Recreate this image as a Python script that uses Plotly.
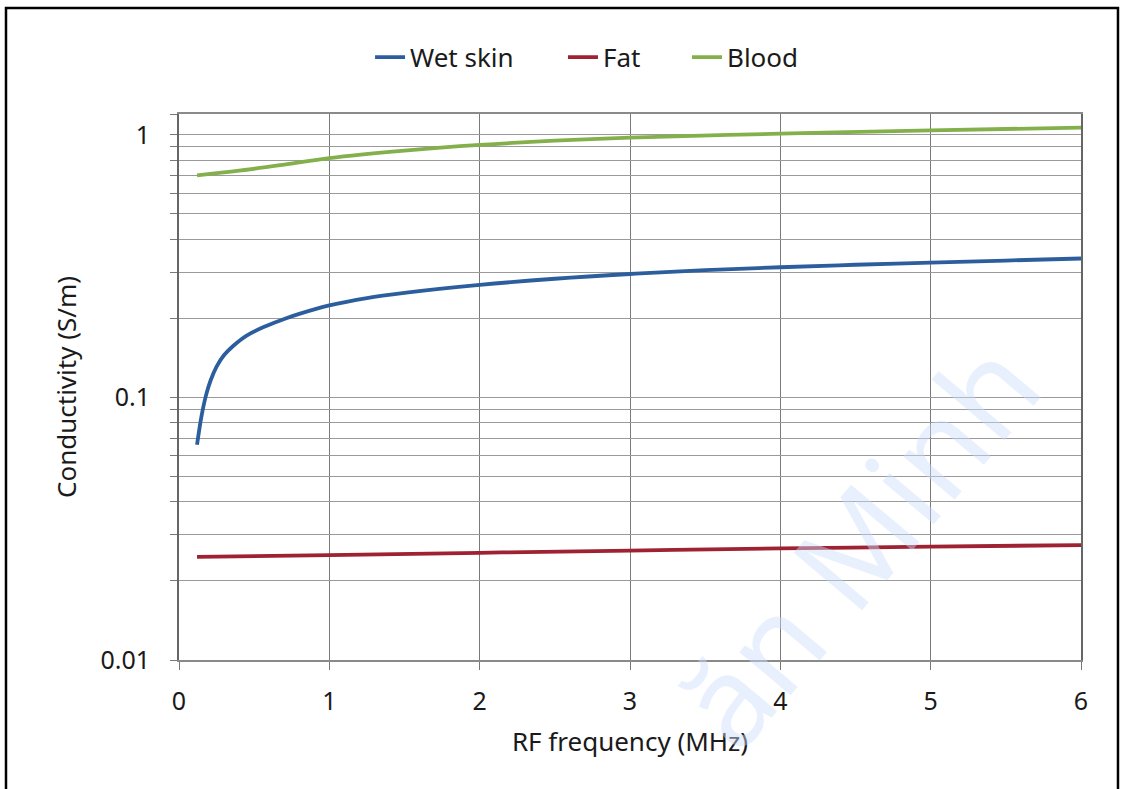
import plotly.graph_objects as go

# Data
skin_x = [0.12, 0.15, 0.18, 0.21, 0.25, 0.3, 0.36, 0.45, 0.58, 0.7, 0.8, 1.0, 1.25, 1.5, 2.0, 2.5, 3.0, 3.5, 4.0, 4.5, 5.0, 5.5, 6.0]
skin_y = [0.066, 0.085, 0.102, 0.116, 0.131, 0.145, 0.157, 0.172, 0.187, 0.199, 0.208, 0.224, 0.239, 0.25, 0.268, 0.283, 0.295, 0.305, 0.313, 0.32, 0.326, 0.332, 0.338]
fat_x = [0.12, 1.0, 2.0, 3.0, 4.0, 5.0, 6.0]
fat_y = [0.0247, 0.0251, 0.0256, 0.0261, 0.0266, 0.0270, 0.0274]
blood_x = [0.12, 0.4, 0.7, 1.0, 1.5, 2.0, 2.5, 3.0, 4.0, 5.0, 6.0]
blood_y = [0.70, 0.73, 0.77, 0.815, 0.87, 0.915, 0.95, 0.975, 1.01, 1.04, 1.065]

x_ticks = [0, 1, 2, 3, 4, 5, 6]
y_tickvals = [0.01, 0.02, 0.03, 0.04, 0.05, 0.06, 0.07, 0.08, 0.09,
              0.1, 0.2, 0.3, 0.4, 0.5, 0.6, 0.7, 0.8, 0.9, 1.0, 1.2]
y_ticktext = ["0.01", "", "", "", "", "", "", "", "",
              "0.1", "", "", "", "", "", "", "", "", "1", ""]

FONT = "Noto Sans"

fig = go.Figure()
fig.add_trace(go.Scatter(x=skin_x, y=skin_y, mode="lines", name="Wet skin", legend="legend",
                         line=dict(color="#2c5e9e", width=3.8, shape="spline")))
fig.add_trace(go.Scatter(x=fat_x, y=fat_y, mode="lines", name="Fat", legend="legend2",
                         line=dict(color="#9e2232", width=3.8, shape="spline")))
fig.add_trace(go.Scatter(x=blood_x, y=blood_y, mode="lines", name="Blood", legend="legend3",
                         line=dict(color="#84b04c", width=3.8, shape="spline")))

leg_common = dict(orientation="h", xanchor="left", y=1.104, yanchor="middle",
                  font=dict(size=26), bgcolor="rgba(0,0,0,0)")

fig.update_layout(
    width=1126, height=789,
    margin=dict(l=179, r=45, t=114, b=129),
    paper_bgcolor="white", plot_bgcolor="white",
    font=dict(family=FONT, size=25, color="#1a1a1a"),
    showlegend=True,
    legend=dict(x=0.2118, **leg_common),
    legend2=dict(x=0.4257, **leg_common),
    legend3=dict(x=0.5632, **leg_common),
    xaxis=dict(range=[0, 6], tickvals=x_ticks, ticks="outside", ticklen=8,
               tickcolor="#777", showgrid=True, gridcolor="#7a7a7a", gridwidth=1.3,
               showline=True, linecolor="#8a8a8a", linewidth=1.5, mirror=True,
               zeroline=False, tickfont=dict(size=25), ticklabelstandoff=10,
               title=dict(text="RF frequency (MHz)", font=dict(size=26), standoff=17)),
    yaxis=dict(type="log", range=[-2, 0.0792], tickvals=y_tickvals, ticktext=y_ticktext,
               ticks="outside", ticklen=7, tickcolor="#777",
               showgrid=True, gridcolor="#9a9a9a", gridwidth=1.3,
               showline=True, linecolor="#666", linewidth=1.8, mirror=True,
               zeroline=False, tickfont=dict(size=25), ticklabelstandoff=15,
               title=dict(text="Conductivity (S/m)", font=dict(size=26), standoff=16)),
)

# Outer frame
fig.add_shape(type="rect", xref="paper", yref="paper",
              x0=-0.1918, x1=1.041, y0=-0.30, y1=1.194,
              line=dict(color="black", width=2.5), fillcolor="rgba(0,0,0,0)", layer="above")

# Watermark (visible part, kept inside the page)
fig.add_annotation(text="ăn Minh", xref="paper", yref="paper",
                   x=0.75, y=0.215, xanchor="center", yanchor="middle",
                   showarrow=False, textangle=-50,
                   font=dict(family=FONT, size=125, color="rgba(205,222,250,0.45)"))

fig.write_html("out.html", config={"displayModeBar": False},
               post_script="document.body.style.margin='0px';")
